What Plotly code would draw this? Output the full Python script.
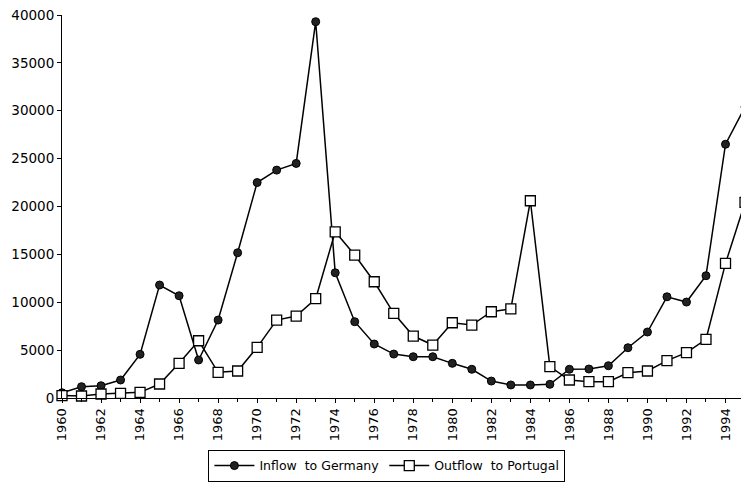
import plotly.graph_objects as go

years = list(range(1960, 1996))
inflow_germany = [550, 1180, 1280, 1880, 4560, 11800, 10680, 3970, 8140, 15170,
                  22500, 23800, 24500, 39300, 13080, 7970, 5640, 4590, 4310, 4310,
                  3620, 3000, 1770, 1360, 1360, 1430, 3000, 3030, 3370, 5250,
                  6890, 10570, 10020, 12770, 26500, 30400]
outflow_portugal = [250, 210, 420, 490, 590, 1460, 3620, 5980, 2680, 2820,
                    5290, 8140, 8560, 10370, 17360, 14930, 12140, 8840, 6470, 5530,
                    7860, 7620, 9010, 9300, 20600, 3270, 1880, 1700, 1700, 2640,
                    2820, 3900, 4730, 6130, 14060, 20430]
x_tick_vals = list(range(1960, 1996, 2))
x_tick_text = [str(v) for v in x_tick_vals]
y_tick_vals = list(range(0, 40001, 5000))

fig = go.Figure()
fig.add_trace(go.Scatter(
    x=years, y=inflow_germany, name="Inflow  to Germany",
    mode="lines+markers", cliponaxis=False,
    line=dict(color="black", width=1.5),
    marker=dict(symbol="circle", size=8, color="#222222",
                line=dict(color="black", width=1)),
))
fig.add_trace(go.Scatter(
    x=years, y=outflow_portugal, name="Outflow  to Portugal",
    mode="lines+markers", cliponaxis=False,
    line=dict(color="black", width=1.5),
    marker=dict(symbol="square", size=10, color="white",
                line=dict(color="black", width=1.3)),
))

fig.update_layout(
    width=749, height=494,
    margin=dict(l=54, r=11, t=7, b=104, autoexpand=False),
    paper_bgcolor="white", plot_bgcolor="white",
    font=dict(family="DejaVu Sans, sans-serif", size=13, color="black"),
    showlegend=True,
    legend=dict(orientation="h", x=0.475, xanchor="center", y=-0.1775, yanchor="middle",
                bordercolor="black", borderwidth=1, bgcolor="white",
                itemwidth=40, font=dict(size=12.5)),
)
fig.update_xaxes(
    range=[1960, 1995.05], showgrid=False, zeroline=False, automargin=False,
    showline=True, linecolor="black", linewidth=1,
    tickvals=x_tick_vals, ticktext=x_tick_text, tickangle=-90,
    ticks="outside", ticklen=4, tickcolor="black",
    minor=dict(ticks="outside", dtick=1, tick0=1960, ticklen=3, tickcolor="black"),
    tickfont=dict(size=13), ticklabeloverflow="allow",
)
fig.update_yaxes(
    range=[0, 40000], showgrid=False, zeroline=False, automargin=False,
    showline=True, linecolor="black", linewidth=1,
    tickvals=y_tick_vals, ticks="outside", ticklen=4, tickcolor="black",
    tickfont=dict(size=13.5), tickformat="d", ticklabeloverflow="allow",
)

fig.write_html("out.html")
